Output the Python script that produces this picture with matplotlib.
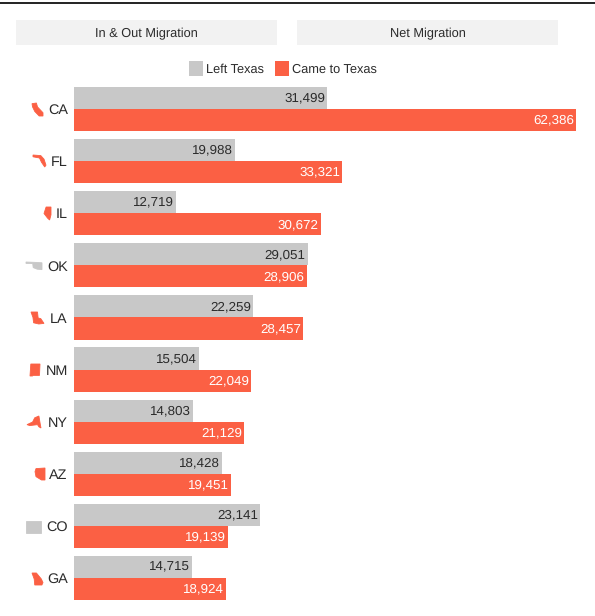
import matplotlib
matplotlib.use("Agg")
import matplotlib.pyplot as plt
import numpy as np
from matplotlib.patches import Polygon, Rectangle

plt.rcParams['font.family'] = ['Liberation Sans', 'DejaVu Sans']
plt.rcParams['text.hinting'] = 'none'

states = ["CA", "FL", "IL", "OK", "LA", "NM", "NY", "AZ", "CO", "GA"]
left_texas = [31499, 19988, 12719, 29051, 22259, 15504, 14803, 18428, 23141, 14715]
came_to_texas = [62386, 33321, 30672, 28906, 28457, 22049, 21129, 19451, 19139, 18924]
tabs = ["In & Out Migration", "Net Migration"]
legend_labels = ["Left Texas", "Came to Texas"]

GRAY = "#c8c8c8"
ORANGE = "#fb6044"
TEXT = "#2b2b2b"
W, H = 595, 616

# rough state outlines, each in a 0-1 box (y down)
shapes = {
    "CA": [(0, .05), (.4, 0), (.5, .3), (1, .75), (1, 1), (.65, 1), (.25, .65), (.05, .3)],
    "FL": [(0, 0), (.6, .05), (.85, .35), (1, .85), (.9, 1), (.65, .6), (.5, .25), (0, .15)],
    "IL": [(.3, 0), (1, 0), (1, .6), (.8, 1), (.5, .85), (0, .5), (.15, .25)],
    "OK": [(0, 0), (.62, .05), (1, .1), (1, .95), (.7, .9), (.45, .7), (.42, .2), (0, .18)],
    "LA": [(0, 0), (.5, 0), (.55, .5), (.75, .55), (1, .95), (.6, 1), (.2, .9), (.15, .45)],
    "NM": [(.08, 0), (1, 0), (.95, .95), (.3, .95), (.25, 1), (0, 1)],
    "NY": [(0, .72), (.4, .5), (.55, .15), (.85, 0), (.95, .7), (1, 1), (.85, .9), (.75, .72), (.2, .8)],
    "AZ": [(.1, .05), (1, 0), (1, 1), (.65, 1), (.1, .72), (0, .3)],
    "CO": [(0, 0), (1, 0), (1, 1), (0, 1)],
    "GA": [(0, 0), (.4, 0), (.85, .5), (1, .8), (.9, 1), (.25, 1), (.2, .5)],
}
# icon boxes in pixels: x0, y0, x1, y1
boxes = {
    "CA": (32, 103, 43, 116), "FL": (33, 155, 46, 167), "IL": (44, 207, 51, 220),
    "OK": (26, 262, 42, 270), "LA": (31, 312, 44, 324), "NM": (30, 364, 40, 376),
    "NY": (27, 416, 41, 428), "AZ": (35, 468, 45, 480), "CO": (26, 521, 41, 533),
    "GA": (32, 573, 43, 585),
}

fig = plt.figure(figsize=(W / 100, H / 100), dpi=100)

# overlay in image pixels for the page furniture
bg = fig.add_axes([0, 0, 1, 1])
bg.set_xlim(0, W)
bg.set_ylim(H, 0)
bg.axis("off")

bg.plot([0, W], [3, 3], color="#222222", lw=1.4)
for x0, label in zip([16, 297], tabs):
    bg.add_patch(Rectangle((x0, 20), 261, 25, color="#f2f2f2", lw=0))
    bg.text(x0 + 130.5, 33, label, ha="center", va="center_baseline", fontsize=9.2, color=TEXT)

for x0, color, label in zip([189, 275], [GRAY, ORANGE], legend_labels):
    bg.add_patch(Rectangle((x0, 61), 14, 15, color=color, lw=0))
    bg.text(x0 + 17, 68.5, label, ha="left", va="center_baseline", fontsize=9.2, color=TEXT)

for s, l, c in zip(states, left_texas, came_to_texas):
    x0, y0, x1, y1 = boxes[s]
    pts = np.array(shapes[s]) * [x1 - x0, y1 - y0] + [x0, y0]
    col = ORANGE if c > l else GRAY
    bg.add_patch(Polygon(pts, closed=True, lw=0.6, edgecolor=col, facecolor=col))

# bars
ax = fig.add_axes([74 / W, 1 - 604 / H, (576 - 74) / W, 521 / H])
ax.patch.set_alpha(0)
y = np.arange(len(states))
bar_h = 0.425
ax.barh(y - bar_h / 2, left_texas, bar_h, color=GRAY)
ax.barh(y + bar_h / 2, came_to_texas, bar_h, color=ORANGE)
ax.set_xlim(0, max(came_to_texas))
ax.set_ylim(len(states) - 0.5, -0.5)

ax.set_yticks(y, states, fontsize=10.4, color=TEXT, va="center_baseline")
ax.tick_params(axis="y", length=0, pad=4.5)
ax.set_xticks([])
for spine in ax.spines.values():
    spine.set_visible(False)

for i in y:
    ax.annotate(f"{left_texas[i]:,}", (left_texas[i], i - bar_h / 2), xytext=(-1.5, 0.8),
                textcoords="offset points", ha="right", va="center_baseline", fontsize=9.6, color=TEXT)
    ax.annotate(f"{came_to_texas[i]:,}", (came_to_texas[i], i + bar_h / 2), xytext=(-1.5, 0.8),
                textcoords="offset points", ha="right", va="center_baseline", fontsize=9.6, color="white")

fig.savefig("out.png", dpi=100)
